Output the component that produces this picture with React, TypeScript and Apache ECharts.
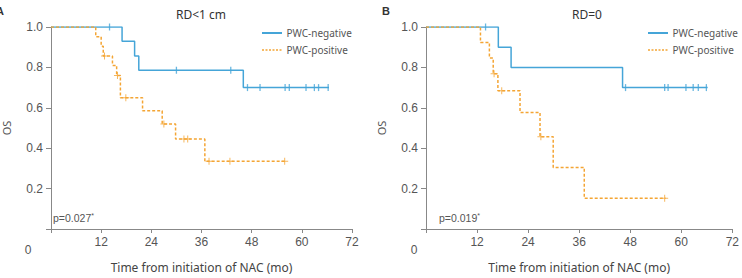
import React, { useEffect, useRef } from "react";
import * as echarts from "echarts";

// Panel A (RD<1 cm)
const aNegTimes = [0, 17, 20, 21, 46, 66.5];
const aNegSurv = [1, 0.929, 0.857, 0.786, 0.7, 0.7];
const aNegCensor = [14, 30, 43, 47, 50, 56, 57, 61, 63, 64, 66.3];
const aPosTimes = [0, 10.7, 12, 12.5, 14.7, 15.7, 16.6, 21.9, 26.6, 29.8, 36.8, 56.2];
const aPosSurv = [1, 0.952, 0.905, 0.857, 0.81, 0.76, 0.65, 0.585, 0.52, 0.445, 0.335, 0.335];
const aPosCensor = [12.8, 15.9, 17.9, 27, 31.8, 32.7, 37.8, 42.8, 55.9];

// Panel B (RD=0)
const bNegTimes = [0, 17, 20, 46.2, 66.2];
const bNegSurv = [1, 0.9, 0.8, 0.7, 0.7];
const bNegCensor = [14, 46.9, 56.1, 56.9, 61.1, 62.8, 64, 65.9];
const bPosTimes = [0, 12.8, 14.9, 15.8, 16.9, 22.1, 26.8, 29.9, 37.2, 56.3];
const bPosSurv = [1, 0.923, 0.846, 0.769, 0.684, 0.577, 0.457, 0.305, 0.152, 0.152];
const bPosCensor = [16.0, 17.8, 27.0, 56.1];

const xTicks = [0, 12, 24, 36, 48, 60, 72];
const yTicks = [0, 0.2, 0.4, 0.6, 0.8, 1.0];
const titles = ["RD<1 cm", "RD=0"];
const pValues = ["0.027", "0.019"];
const panelLetters = ["A", "B"];
const legendNames = ["PWC-negative", "PWC-positive"];

const BLUE = "#45a5d8";
const ORANGE = "#f4a534";
const AXIS = "#888";
const TXT = "#555";

function pairs(t: number[], s: number[]) {
  return t.map((v, i) => [v, s[i]]);
}
function censorPts(times: number[], et: number[], es: number[]) {
  return times.map((c) => {
    let v = es[0];
    for (let i = 0; i < et.length; i++) if (et[i] <= c) v = es[i];
    return [c, v];
  });
}

export default function App() {
  const ref = useRef<HTMLDivElement>(null);
  useEffect(() => {
    if (!ref.current) return;
    const chart = echarts.init(ref.current, undefined, { renderer: "svg" });
    const grids = [
      { left: 40, top: 27, width: 312, height: 210 },
      { left: 426, top: 27, width: 312, height: 210 },
    ];
    const xAxis = grids.map((_, i) => ({
      type: "value",
      gridIndex: i,
      min: xTicks[0],
      max: xTicks[xTicks.length - 1],
      interval: xTicks[1] - xTicks[0],
      name: "Time from initiation of NAC (mo)",
      nameLocation: "middle",
      nameGap: 32,
      nameTextStyle: { fontSize: 12, fontFamily: "Noto Sans", color: "#444" },
      axisLine: { show: true, onZero: false, lineStyle: { color: AXIS, width: 1 } },
      axisTick: { show: true, length: 4, lineStyle: { color: AXIS } },
      splitLine: { show: false },
      axisLabel: {
        margin: 7,
        fontSize: 12,
        fontFamily: "Liberation Sans",
        color: TXT,
        showMaxLabel: true,
        formatter: (v: number) => (v === 0 ? "" : String(v)),
      },
    }));
    const yAxis = grids.map((_, i) => ({
      type: "value",
      gridIndex: i,
      min: yTicks[0],
      max: yTicks[yTicks.length - 1],
      interval: 0.2,
      name: "OS",
      nameLocation: "middle",
      nameGap: 39,
      nameRotate: 90,
      nameTextStyle: { fontSize: 11, fontFamily: "Noto Sans", color: TXT },
      axisLine: { show: true, lineStyle: { color: AXIS, width: 1 } },
      axisTick: { show: true, length: 5, lineStyle: { color: AXIS } },
      splitLine: { show: false },
      axisLabel: {
        margin: 8,
        fontSize: 12,
        fontFamily: "Liberation Sans",
        color: TXT,
        formatter: (v: number) => (v === 0 ? "" : v.toFixed(1)),
      },
    }));
    const panels = [
      { nt: aNegTimes, ns: aNegSurv, nc: aNegCensor, pt: aPosTimes, ps: aPosSurv, pc: aPosCensor },
      { nt: bNegTimes, ns: bNegSurv, nc: bNegCensor, pt: bPosTimes, ps: bPosSurv, pc: bPosCensor },
    ];
    const series: any[] = [];
    panels.forEach((p, i) => {
      series.push({
        type: "line",
        name: legendNames[0],
        xAxisIndex: i,
        yAxisIndex: i,
        step: "end",
        symbol: "none",
        data: pairs(p.nt, p.ns),
        lineStyle: { color: BLUE, width: 1.5 },
        itemStyle: { color: BLUE },
      });
      series.push({
        type: "line",
        name: legendNames[1],
        xAxisIndex: i,
        yAxisIndex: i,
        step: "end",
        symbol: "none",
        data: pairs(p.pt, p.ps),
        lineStyle: { color: ORANGE, width: 1.5, type: [3, 2] },
        itemStyle: { color: ORANGE },
      });
      series.push({
        type: "scatter",
        name: "negCensor" + i,
        xAxisIndex: i,
        yAxisIndex: i,
        symbol: "path://M0,0H1V7H0Z",
        symbolSize: [1.3, 7],
        data: censorPts(p.nc, p.nt, p.ns),
        itemStyle: { color: BLUE },
      });
      series.push({
        type: "scatter",
        name: "posCensor" + i,
        xAxisIndex: i,
        yAxisIndex: i,
        symbol: "path://M3,0H4V3H7V4H4V7H3V4H0V3H3Z",
        symbolSize: [7, 7],
        data: censorPts(p.pc, p.pt, p.ps),
        itemStyle: { color: ORANGE },
      });
    });
    const title = [196, 582].map((x, i) => ({
      text: titles[i],
      left: x,
      top: 3,
      textAlign: "center",
      textStyle: { fontSize: 12, fontFamily: "Noto Sans", color: "#333", fontWeight: "normal" },
    }));
    const graphic: any[] = [];
    [0, 386].forEach((dx, i) => {
      graphic.push({
        type: "text",
        x: 53 + dx,
        y: 218,
        style: {
          text: "p=" + pValues[i] + "{s|*}",
          fontSize: 10.5,
          fontFamily: "Liberation Sans",
          fill: TXT,
          verticalAlign: "middle",
          rich: { s: { fontSize: 7, verticalAlign: "top", padding: [0, 0, 6, 0], fill: TXT } },
        },
      });
      graphic.push({
        type: "text",
        x: 28 + dx,
        y: 250,
        style: {
          text: "0",
          fontSize: 12,
          fontFamily: "Liberation Sans",
          fill: TXT,
          align: "center",
          verticalAlign: "middle",
        },
      });
    });
    // legends
    [262, 648].forEach((lx) => {
      graphic.push({
        type: "line",
        shape: { x1: lx, y1: 33, x2: lx + 20, y2: 33 },
        style: { stroke: BLUE, lineWidth: 2 },
      });
      graphic.push({
        type: "line",
        shape: { x1: lx, y1: 50, x2: lx + 20, y2: 50 },
        style: { stroke: ORANGE, lineWidth: 1.5, lineDash: [2, 1.5] },
      });
      graphic.push({
        type: "text",
        x: lx + 24.5,
        y: 33,
        style: { text: legendNames[0], fontSize: 10, fontFamily: "Noto Sans", fill: TXT, verticalAlign: "middle" },
      });
      graphic.push({
        type: "text",
        x: lx + 24.5,
        y: 50,
        style: { text: legendNames[1], fontSize: 10, fontFamily: "Noto Sans", fill: TXT, verticalAlign: "middle" },
      });
    });
    graphic.push({
      type: "text",
      x: -4,
      y: 11,
      style: { text: panelLetters[0], fontSize: 11, fontWeight: "bold", fontFamily: "Liberation Sans", fill: "#333", verticalAlign: "middle" },
    });
    graphic.push({
      type: "text",
      x: 382,
      y: 11,
      style: { text: panelLetters[1], fontSize: 11, fontWeight: "bold", fontFamily: "Liberation Sans", fill: "#333", verticalAlign: "middle" },
    });
    chart.setOption({
      animation: false,
      grid: grids,
      xAxis,
      yAxis,
      series,
      title,
      graphic,
    });
    return () => chart.dispose();
  }, []);
  return (
    <div
      ref={ref}
      style={{ position: "fixed", left: 0, top: 0, width: 742, height: 278, background: "#fff" }}
    />
  );
}
